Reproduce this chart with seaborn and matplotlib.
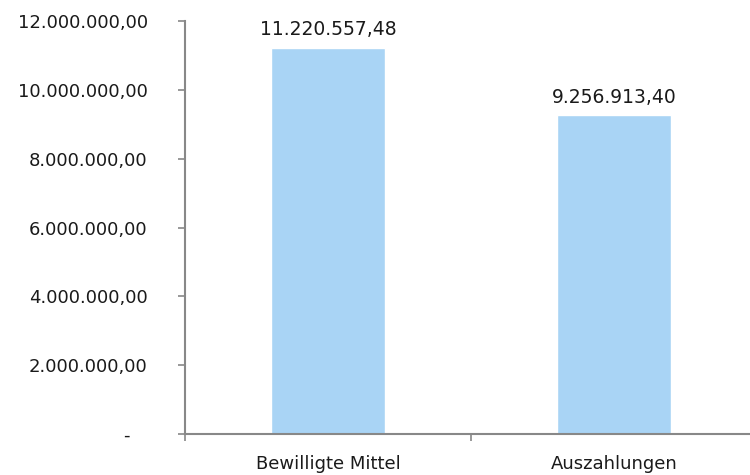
import matplotlib
matplotlib.use("Agg")
import matplotlib.pyplot as plt
import seaborn as sns
import pandas as pd
from matplotlib.ticker import FuncFormatter, FixedLocator

categories = ["Bewilligte Mittel", "Auszahlungen"]
values = [11220557.48, 9256913.40]
y_ticks = [0, 2000000, 4000000, 6000000, 8000000, 10000000, 12000000]


def de_format(v, pos=None):
    if v == 0:
        return "-   "
    s = f"{v:,.2f}"
    return s.replace(",", "X").replace(".", ",").replace("X", ".")


df = pd.DataFrame({"kategorie": categories, "wert": values})

sns.set_style("white")
plt.rcParams["font.family"] = ["DejaVu Sans"]

fig = plt.figure(figsize=(7.5, 4.75), dpi=100)
ax = fig.add_axes([0.247, 0.0863, 0.7627, 0.8695])

sns.barplot(data=df, x="kategorie", y="wert", color="#A9D4F5", width=0.40,
            saturation=1, ax=ax)

ax.set_ylim(0, 12000000)
ax.set_xlim(-0.5, 1.5)
ax.set_yticks(y_ticks)
ax.yaxis.set_major_formatter(FuncFormatter(de_format))
ax.set_xlabel("")
ax.set_ylabel("")

for i, v in enumerate(values):
    ax.annotate(de_format(v), (i, v), xytext=(0, 6), textcoords="offset points",
                ha="center", va="bottom", fontsize=13.5, color="#1a1a1a")

for side in ["top", "right"]:
    ax.spines[side].set_visible(False)
for side in ["left", "bottom"]:
    ax.spines[side].set_color("#888888")
    ax.spines[side].set_linewidth(1.5)

ax.tick_params(axis="y", which="major", left=True, direction="out", length=5,
               width=1.2, color="#888888", labelsize=13, labelcolor="#1a1a1a",
               pad=22)
ax.tick_params(axis="x", which="major", bottom=True, length=0, labelsize=13,
               labelcolor="#1a1a1a", pad=15)
ax.xaxis.set_minor_locator(FixedLocator([-0.5, 0.5, 1.5]))
ax.tick_params(axis="x", which="minor", bottom=True, direction="out", length=5,
               width=1.2, color="#888888")

fig.savefig("out.png", dpi=100)
